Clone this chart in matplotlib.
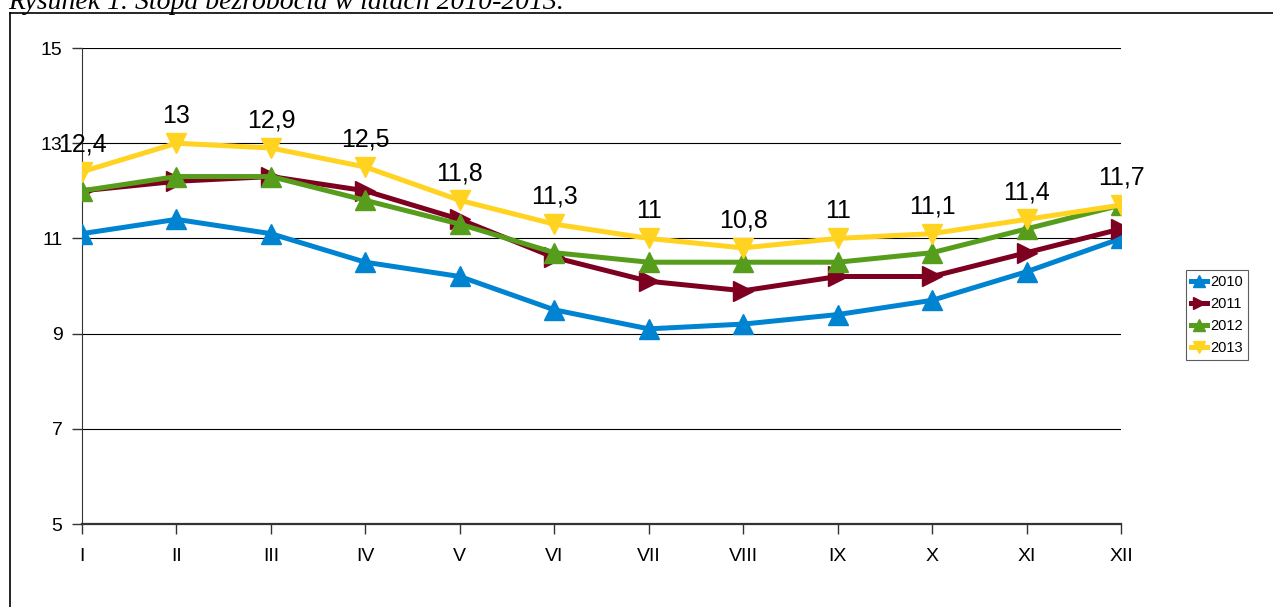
import matplotlib
matplotlib.use("Agg")
import matplotlib.pyplot as plt
from matplotlib.lines import Line2D

months = ["I", "II", "III", "IV", "V", "VI", "VII", "VIII", "IX", "X", "XI", "XII"]
rate_2010 = [11.1, 11.4, 11.1, 10.5, 10.2, 9.5, 9.1, 9.2, 9.4, 9.7, 10.3, 11.0]
rate_2011 = [12.0, 12.2, 12.3, 12.0, 11.4, 10.6, 10.1, 9.9, 10.2, 10.2, 10.7, 11.2]
rate_2012 = [12.0, 12.3, 12.3, 11.8, 11.3, 10.7, 10.5, 10.5, 10.5, 10.7, 11.2, 11.7]
rate_2013 = [12.4, 13.0, 12.9, 12.5, 11.8, 11.3, 11.0, 10.8, 11.0, 11.1, 11.4, 11.7]

plt.rcParams['font.family'] = ['Liberation Sans', 'DejaVu Sans']

fig = plt.figure(figsize=(12.73, 6.07), dpi=100)
ax = fig.add_axes([0.0644, 0.1367, 0.8162, 0.7842])

x = list(range(len(months)))
series = [
    ("2010", rate_2010, "#0084d1", "^"),
    ("2011", rate_2011, "#7e0021", ">"),
    ("2012", rate_2012, "#579d1c", "^"),
    ("2013", rate_2013, "#ffd320", "v"),
]
for name, vals, col, mk in series:
    ax.plot(x, vals, color=col, lw=3.6, marker=mk, ms=15, label=name, zorder=3)

# data labels for 2013
for xi, v in zip(x, rate_2013):
    ax.annotate(f"{v:g}".replace(".", ","), (xi, v), xytext=(0, 11),
                textcoords="offset points", ha="center", va="bottom",
                fontsize=18, zorder=4)

ax.set_xlim(0, 11)
ax.set_ylim(5, 15)
ax.set_yticks([5, 7, 9, 11, 13, 15])
ax.set_xticks(x)
ax.set_xticklabels(months)
ax.grid(axis="y", color="black", lw=0.8, zorder=1)
ax.tick_params(axis="both", labelsize=14, length=7, color="#333333", width=1)
ax.tick_params(axis="x", pad=10)
ax.tick_params(axis="y", pad=7)
for s in ["top", "right"]:
    ax.spines[s].set_visible(False)
ax.spines["left"].set_color("#333333")
ax.spines["bottom"].set_color("#333333")
ax.spines["bottom"].set_linewidth(1.6)
ax.set_axisbelow(True)

leg = fig.legend(loc="upper left", bbox_to_anchor=(1186 / 1273, 1 - 270 / 607), fontsize=10.5,
                 frameon=True, fancybox=False, edgecolor="#333333",
                 handlelength=1.1, handletextpad=0.2, borderpad=0.35,
                 borderaxespad=0, labelspacing=0.55, markerscale=0.55)
leg.get_frame().set_linewidth(0.8)

# outer frame of the figure
fig.add_artist(Line2D([10 / 1273, 10 / 1273], [0, 1 - 13 / 607], color="black", lw=1.2,
                      transform=fig.transFigure))
fig.add_artist(Line2D([10 / 1273, 1], [1 - 13 / 607, 1 - 13 / 607], color="black", lw=1.2,
                      transform=fig.transFigure))

fig.text(8 / 1273, 1 - 9 / 607, "Rysunek 1. Stopa bezrobocia w latach 2010-2013.",
         family="Liberation Serif", style="italic", fontsize=20, va="baseline", ha="left")

fig.savefig("out.png", dpi=100)
